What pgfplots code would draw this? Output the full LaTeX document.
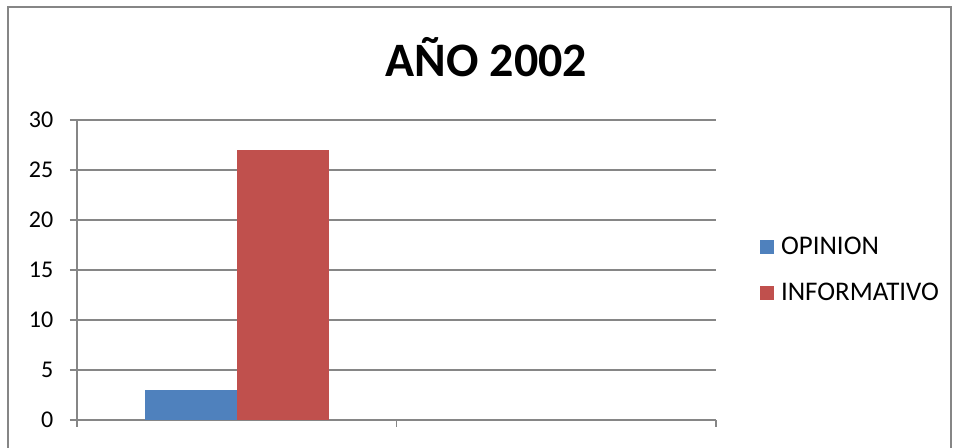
\documentclass[border=0pt]{standalone}
\usepackage{pgfplots}
\pgfplotsset{compat=1.18}
\usepackage{fontspec}
\setmainfont{Carlito}
\definecolor{xlblue}{RGB}{79,129,189}
\definecolor{xlred}{RGB}{192,80,77}
\definecolor{xlgrid}{RGB}{134,134,134}
\begin{document}
\begin{tikzpicture}[x=0.75pt,y=0.75pt]
\useasboundingbox (0,0) rectangle (954,448);
\draw[xlgrid,line width=0.9pt] (8,-5) -- (8,441) -- (951,441) -- (951,-5);
\node[anchor=base,font=\fontsize{36}{40}\selectfont\bfseries] at (486.5,371) {AÑO 2002};
\begin{axis}[
  at={(57.75pt,21pt)}, anchor=south west,
  scale only axis,
  width=479.25pt, height=225pt,
  ybar=0pt, bar width=69pt,
  xmin=-0.5, xmax=1.5,
  ymin=0, ymax=30,
  ytick={0,5,10,15,20,25,30},
  xtick={-0.5,0.5,1.5},
  xticklabels={},
  axis x line*=bottom, axis y line*=left,
  axis line style={xlgrid,line width=0.9pt,-},
  tick style={xlgrid,line width=0.9pt},
  major tick length=5.25pt,
  tick align=outside,
  ymajorgrids,
  grid style={xlgrid,line width=0.9pt},
  tick label style={font=\fontsize{18}{22}\selectfont},
  yticklabel style={xshift=-9pt},
  /pgf/number format/assume math mode=true,
  legend style={at={(1.069,0.5)},anchor=west,draw=none,fill=none,
    font=\fontsize{20.2}{24}\selectfont,
    row sep=15.5pt, inner sep=0pt,
    /tikz/every odd column/.append style={column sep=3pt}},
  legend cell align=left,
  legend image code/.code={\fill[#1] (0pt,-5.25pt) rectangle (10.5pt,5.25pt);},
]
\addplot[fill=xlblue,draw=none] coordinates {(0,3)};
\addplot[fill=xlred,draw=none] coordinates {(0,27)};
\legend{OPINION,INFORMATIVO}
\end{axis}
\end{tikzpicture}
\end{document}
